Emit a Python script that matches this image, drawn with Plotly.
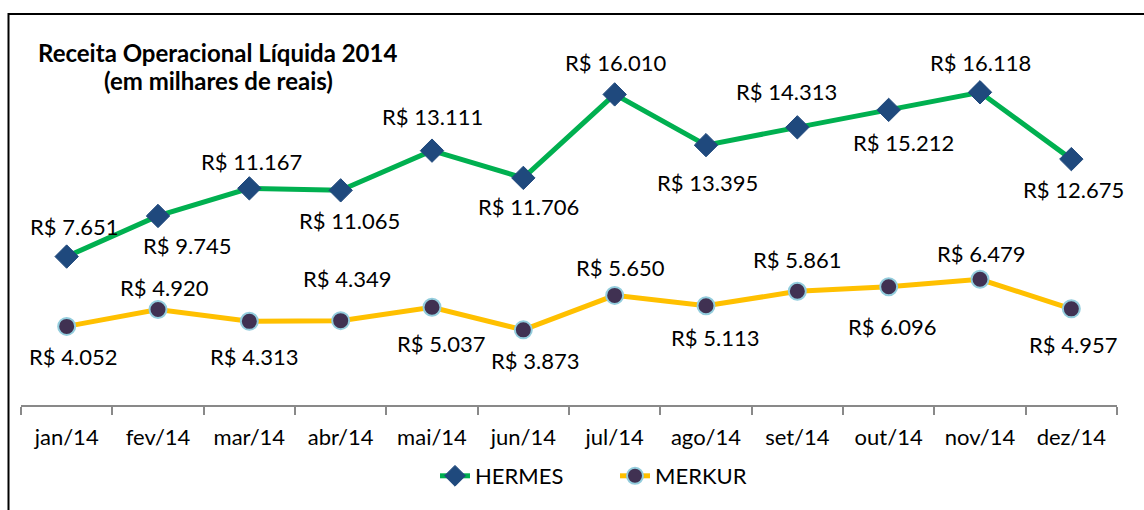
import plotly.graph_objects as go

months = ["jan/14", "fev/14", "mar/14", "abr/14", "mai/14", "jun/14",
          "jul/14", "ago/14", "set/14", "out/14", "nov/14", "dez/14"]
hermes = [7.651, 9.745, 11.167, 11.065, 13.111, 11.706,
          16.010, 13.395, 14.313, 15.212, 16.118, 12.675]
merkur = [4.052, 4.920, 4.313, 4.349, 5.037, 3.873,
          5.650, 5.113, 5.861, 6.096, 6.479, 4.957]

# label offsets (pixels) relative to each point
h_dx = [7, 29, 2, 9, 0, 5, 1, 1, -11, 15, 0, 2]
h_dy = [30, -30, 27, -30, 34, -29, 32, -37, 36, -33, 30, -30]
m_dx = [6, 6, 5, 6, 9, 12, 6, 9, 0, 3, 1, 2]
m_dy = [-30, 22, -35, 42, -36, -31, 28, -32, 32, -40, 26, -36]

FONT = "Lato, Carlito, 'Open Sans', sans-serif"

def fmt(v):
    return "R$ " + f"{v:.3f}"

fig = go.Figure()
fig.add_trace(go.Scatter(
    x=months, y=hermes, name="HERMES", mode="lines+markers",
    line=dict(color="#00B050", width=5),
    marker=dict(symbol="diamond", size=18, color="#1F497D",
                line=dict(color="#1F497D", width=1)),
))
fig.add_trace(go.Scatter(
    x=months, y=merkur, name="MERKUR", mode="lines+markers",
    line=dict(color="#FFC000", width=5),
    marker=dict(symbol="circle", size=17, color="#403152",
                line=dict(color="#93CDDD", width=2)),
))

anns = []
for i, m in enumerate(months):
    anns.append(dict(x=m, y=hermes[i], text=fmt(hermes[i]), showarrow=False,
                     xshift=h_dx[i], yshift=h_dy[i],
                     font=dict(size=22, color="#000000", family=FONT)))
    anns.append(dict(x=m, y=merkur[i], text=fmt(merkur[i]), showarrow=False,
                     xshift=m_dx[i], yshift=m_dy[i],
                     font=dict(size=22, color="#000000", family=FONT)))

L, R, T, B = 21, 27, 17, 105
W, H = 1144 - L - R, 510 - T - B
def px(x):
    return (x - L) / W
def py(y):
    return (510 - B - y) / H

anns.append(dict(xref="paper", yref="paper", x=px(217), y=py(52),
                 text="<b>Receita Operacional Líquida 2014</b>", showarrow=False,
                 xanchor="center", yanchor="middle",
                 font=dict(size=24, color="#000000", family=FONT)))
anns.append(dict(xref="paper", yref="paper", x=px(218), y=py(80),
                 text="<b>(em milhares de reais)</b>", showarrow=False,
                 xanchor="center", yanchor="middle",
                 font=dict(size=24, color="#000000", family=FONT)))

fig.update_layout(
    width=1144, height=510,
    margin=dict(l=L, r=R, t=T, b=B),
    paper_bgcolor="white", plot_bgcolor="white",
    font=dict(family=FONT, size=22, color="#000000"),
    annotations=anns,
    showlegend=True,
    legend=dict(orientation="h", x=px(435), y=py(476), xanchor="left",
                yanchor="middle", font=dict(size=22, family=FONT),
                bgcolor="rgba(0,0,0,0)", entrywidth=135,
                entrywidthmode="pixels"),
    shapes=[dict(type="rect", xref="paper", yref="paper",
                 x0=px(8.5), y0=py(14), x1=px(1160), y1=py(530),
                 line=dict(color="#000000", width=2), fillcolor="rgba(0,0,0,0)",
                 layer="above")],
    xaxis=dict(type="category", range=[-0.5, 11.5], showgrid=False,
               showline=True, linecolor="#898989", linewidth=2,
               ticks="outside", tickson="boundaries", ticklen=8,
               tickcolor="#898989", tickwidth=2, ticklabelstandoff=12,
               tickfont=dict(size=22, family=FONT, color="#000000"),
               zeroline=False),
    yaxis=dict(range=[0, 20], visible=False, showgrid=False, zeroline=False),
)

fig.write_html("out.html")
